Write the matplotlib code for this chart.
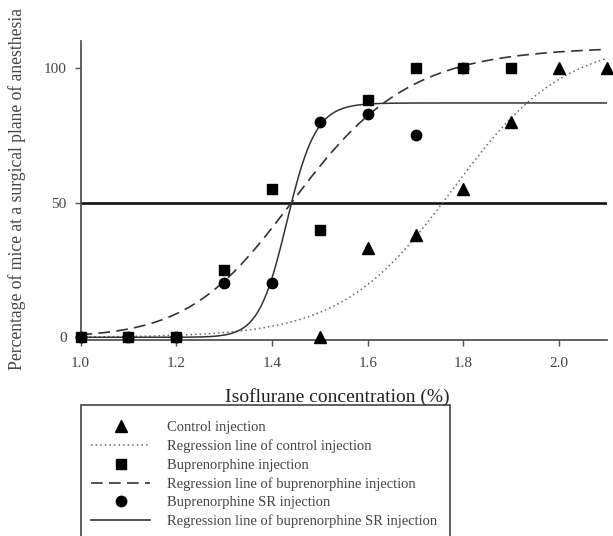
import numpy as np
import matplotlib
matplotlib.use("Agg")
import matplotlib.pyplot as plt
from matplotlib.lines import Line2D
from matplotlib.patches import Rectangle

plt.rcParams['font.family'] = ['Liberation Serif', 'DejaVu Serif']

# ---- observed data ----
control_x = [1.5, 1.6, 1.7, 1.8, 1.9, 2.0, 2.1]
control_y = [0, 33, 38, 55, 80, 100, 100]

bup_x = [1.0, 1.1, 1.2, 1.3, 1.4, 1.5, 1.6, 1.7, 1.8, 1.9]
bup_y = [0, 0, 0, 25, 55, 40, 88, 100, 100, 100]

sr_x = [1.0, 1.1, 1.2, 1.3, 1.4, 1.5, 1.6, 1.7, 1.8]
sr_y = [0, 0, 0, 20, 20, 80, 83, 75, 100]

# ---- regression parameters ----
control_fit = dict(top=110.0, x50=1.778, k=8.6)        # logistic
bup_fit = dict(top=108.0, ec50=1.458, n=12.5)          # Hill
sr_fit = dict(top=87.0, ec50=1.432, n=48.0)            # Hill

x_ticks = [1.0, 1.2, 1.4, 1.6, 1.8, 2.0]
y_ticks = [0, 50, 100]

xs = np.linspace(1.0, 2.1, 600)
ctrl_curve = control_fit['top'] / (1 + np.exp(-control_fit['k'] * (xs - control_fit['x50'])))
bup_curve = bup_fit['top'] / (1 + (bup_fit['ec50'] / xs) ** bup_fit['n'])
sr_curve = sr_fit['top'] / (1 + (sr_fit['ec50'] / xs) ** sr_fit['n'])

W, H = 613, 536
fig = plt.figure(figsize=(W / 100, H / 100), dpi=100)
ax = fig.add_axes([80.5 / W, 1 - 340 / H, (607 - 80.5) / W, (340 - 41) / H])

line_col = '#333333'
text_col = '#444444'

ax.axhline(50, color='#111111', lw=1.9, zorder=2)
ax.plot(xs, ctrl_curve, color='#666666', lw=1.1, ls=(0, (1, 2)), zorder=3)
ax.plot(xs, bup_curve, color=line_col, lw=1.2, ls=(0, (7, 3.8)), zorder=3)
ax.plot(xs, sr_curve, color=line_col, lw=1.1, zorder=3)

ax.plot(control_x, control_y, ls='none', marker='^', ms=8, color='black', zorder=5, clip_on=False)
ax.plot(bup_x, bup_y, ls='none', marker='s', ms=7, color='black', zorder=5, clip_on=False)
ax.plot(sr_x, sr_y, ls='none', marker='o', ms=7.5, color='black', zorder=6, clip_on=False)

ax.set_xlim(1.0, 2.1)
ax.set_ylim(-1.0, 110)
ax.set_xticks(x_ticks)
ax.set_xticklabels([f"{v:.1f}" for v in x_ticks])
ax.set_yticks(y_ticks)
for s in ['top', 'right']:
    ax.spines[s].set_visible(False)
for s in ['left', 'bottom']:
    ax.spines[s].set_color('#555555')
    ax.spines[s].set_linewidth(1.3)
ax.tick_params(direction='out', length=4, width=1.0, color='#555555',
               labelsize=11, labelcolor=text_col)
ax.tick_params(axis='x', pad=8)
ax.tick_params(axis='y', pad=6)

ax.set_ylabel('Percentage of mice at a surgical plane of anesthesia',
              fontsize=12.7, color=text_col)
ax.yaxis.set_label_coords(-0.103, 0.505)
fig.text(450 / W, 1 - 402 / H, 'Isoflurane concentration (%)', ha='right', va='baseline',
         fontsize=14, color='#222222')

# legend
handles = [
    Line2D([], [], ls='none', marker='^', ms=8, color='black'),
    Line2D([], [], color='#666666', lw=1.1, ls=(0, (1, 2))),
    Line2D([], [], ls='none', marker='s', ms=7, color='black'),
    Line2D([], [], color=line_col, lw=1.2, ls=(0, (7, 3.8))),
    Line2D([], [], ls='none', marker='o', ms=7.5, color='black'),
    Line2D([], [], color=line_col, lw=1.2),
]
labels = ['Control injection',
          'Regression line of control injection',
          'Buprenorphine injection',
          'Regression line of buprenorphine injection',
          'Buprenorphine SR injection',
          'Regression line of buprenorphine SR injection']
leg = fig.legend(handles, labels, loc='upper left', bbox_to_anchor=(90.7 / W, 1 - 421 / H),
                 frameon=False, fontsize=10.5, handlelength=4.1, handletextpad=1.1,
                 labelspacing=0.36, borderpad=0, borderaxespad=0)
for t in leg.get_texts():
    t.set_color(text_col)

fig.add_artist(Rectangle((80.7 / W, -0.05), (450 - 80.7) / W, 0.05 + 1 - 405 / H,
                         transform=fig.transFigure, fill=False, edgecolor='#444444', lw=1.2,
                         clip_on=False))

fig.savefig('out.png', dpi=100)
